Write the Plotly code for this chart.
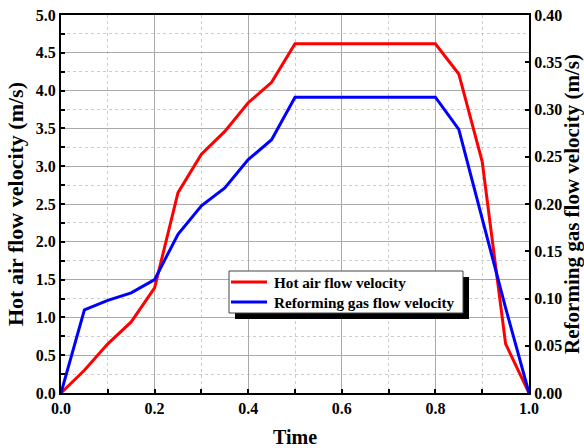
import plotly.graph_objects as go

time = [0.0, 0.05, 0.10, 0.15, 0.20, 0.25, 0.30, 0.35, 0.40, 0.45, 0.50,
        0.55, 0.60, 0.65, 0.70, 0.75, 0.80, 0.85, 0.90, 0.95, 1.0]
hot_air = [0.0, 0.30, 0.65, 0.94, 1.39, 2.65, 3.16, 3.46, 3.84, 4.11, 4.62,
           4.62, 4.62, 4.62, 4.62, 4.62, 4.62, 4.22, 3.06, 0.65, 0.0]
reforming_gas = [0.0, 0.088, 0.098, 0.106, 0.120, 0.168, 0.198, 0.217, 0.247, 0.268, 0.313,
                 0.313, 0.313, 0.313, 0.313, 0.313, 0.313, 0.279, 0.184, 0.090, 0.0]
series_names = ["Hot air flow velocity", "Reforming gas flow velocity"]
series_colors = ["#ff0000", "#0000ff"]

FONT = "Times New Roman, Liberation Serif, serif"

fig = go.Figure()
fig.add_trace(go.Scatter(x=time, y=hot_air, mode="lines", name=series_names[0],
                         line=dict(color=series_colors[0], width=3)))
fig.add_trace(go.Scatter(x=time, y=reforming_gas, mode="lines", name=series_names[1],
                         line=dict(color=series_colors[1], width=3), yaxis="y2"))

# hand-drawn legend box (paper coordinates) with drop shadow
PW, PH = 468.0, 378.0
box_x0, box_x1 = 168 / PW, 402 / PW
box_y1, box_y0 = 122 / PH, 80 / PH
sh = 6
shapes = [
    dict(type="rect", xref="paper", yref="paper",
         x0=box_x0 + sh / PW, x1=box_x1 + sh / PW, y0=box_y0 - sh / PH, y1=box_y1 - sh / PH,
         fillcolor="black", line=dict(width=0), layer="above"),
    dict(type="rect", xref="paper", yref="paper",
         x0=box_x0, x1=box_x1, y0=box_y0, y1=box_y1,
         fillcolor="white", line=dict(color="#444444", width=1), layer="above"),
]
annotations = []
item_y = [111 / PH, 91 / PH]
for name, color, yy in zip(series_names, series_colors, item_y):
    shapes.append(dict(type="line", xref="paper", yref="paper",
                       x0=170 / PW, x1=206 / PW, y0=yy, y1=yy,
                       line=dict(color=color, width=3), layer="above"))
    annotations.append(dict(xref="paper", yref="paper", x=211 / PW, y=yy,
                            xanchor="left", yanchor="middle", showarrow=False,
                            text=name, font=dict(family=FONT, size=15.2, color="black", weight="bold")))

fig.update_layout(
    width=584, height=448,
    margin=dict(l=61, r=55, t=15, b=55, autoexpand=False),
    paper_bgcolor="white", plot_bgcolor="white",
    font=dict(family=FONT, size=16, color="black"),
    showlegend=False,
    xaxis=dict(range=[0, 1], dtick=0.2, tick0=0, tickformat=".1f", automargin=False,
               showline=True, linecolor="black", linewidth=2, mirror=True,
               ticks="inside", ticklen=4, tickwidth=1.5, tickcolor="black",
               showgrid=True, gridcolor="#aaaaaa", gridwidth=1,
               minor=dict(dtick=0.1, ticks="inside", ticklen=4, tickwidth=1.5, tickcolor="black",
                          showgrid=True, gridcolor="#cccccc", griddash="dot", gridwidth=1),
               zeroline=False,
               tickfont=dict(family=FONT, size=16, weight="bold"),
               title=dict(text="Time", font=dict(family=FONT, size=20, weight="bold"), standoff=14)),
    yaxis=dict(range=[0, 5], dtick=0.5, tick0=0, tickformat=".1f", automargin=False,
               showline=True, linecolor="black", linewidth=2,
               ticks="inside", ticklen=4, tickwidth=1.5, tickcolor="black",
               showgrid=True, gridcolor="#aaaaaa", gridwidth=1,
               minor=dict(dtick=0.25, ticks="inside", ticklen=4, tickwidth=1.5, tickcolor="black",
                          showgrid=True, gridcolor="#cccccc", griddash="dot", gridwidth=1),
               zeroline=False,
               tickfont=dict(family=FONT, size=16, weight="bold"),
               title=dict(text="Hot air flow velocity (m/s)",
                          font=dict(family=FONT, size=22, weight="bold"), standoff=6)),
    yaxis2=dict(range=[0, 0.4], dtick=0.05, tick0=0, tickformat=".2f", automargin=False,
                overlaying="y", side="right", anchor="x",
                showline=True, linecolor="black", linewidth=2,
                ticks="inside", ticklen=4, tickwidth=1.5, tickcolor="black",
                showgrid=False, zeroline=False,
                tickfont=dict(family=FONT, size=16, weight="bold"),
                title=dict(text="Reforming gas flow velocity (m/s)",
                           font=dict(family=FONT, size=21, weight="bold"), standoff=4)),
    shapes=shapes,
    annotations=annotations,
)

fig.write_html("out.html", config={"displayModeBar": False},
               post_script="document.body.style.margin='0px';")
